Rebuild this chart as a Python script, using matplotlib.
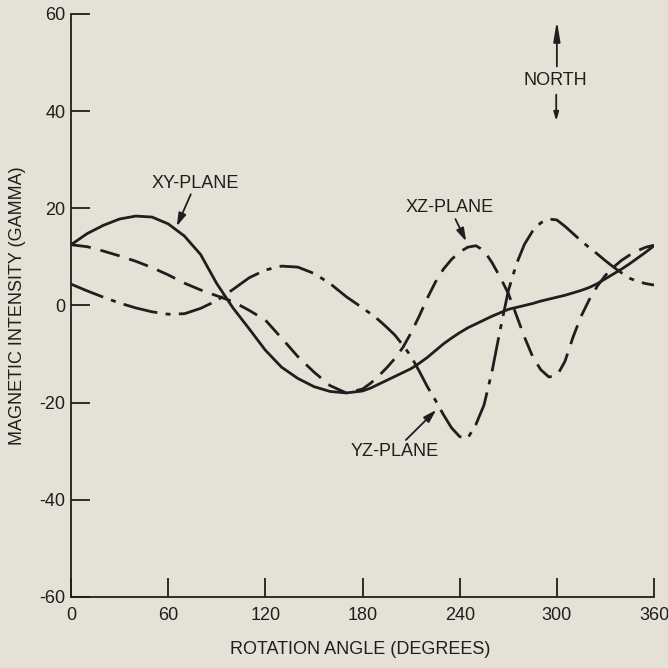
import matplotlib
matplotlib.use("Agg")
import matplotlib.pyplot as plt

# rotation angle (degrees) at which each curve was sampled
angle = [0, 10, 20, 30, 40, 50, 60, 70, 80, 90, 100, 110, 120, 130, 140, 150, 160, 170,
         180, 185, 190, 195, 200, 205, 210, 215, 220, 225, 230, 235, 240, 245, 250, 255,
         260, 265, 270, 275, 280, 285, 290, 295, 300, 305, 310, 315, 320, 325, 330, 335,
         340, 345, 350, 355, 360]

# magnetic intensity (gamma) per plane
xy_plane = [12.5, 14.8, 16.5, 17.8, 18.4, 18.2, 16.8, 14.3, 10.5, 4.5, -0.5, -4.8, -9.2,
            -12.7, -15.0, -16.7, -17.7, -18.0,
            -17.6, -17.0, -16.2, -15.4, -14.6, -13.8, -13.0, -11.9, -10.7, -9.3, -7.9,
            -6.7, -5.6, -4.6, -3.8, -3.0, -2.2, -1.5, -0.8, -0.4, 0.0, 0.4, 0.9, 1.3,
            1.7, 2.1, 2.6, 3.1, 3.7, 4.5, 5.5, 6.5, 7.5, 8.6, 9.8, 11.0, 12.3]
xz_plane = [12.5, 12.1, 11.2, 10.2, 9.1, 7.8, 6.3, 4.6, 3.2, 2.0, 0.8, -1.0, -3.0,
            -6.7, -10.5, -13.7, -16.5, -18.0,
            -17.2, -16.0, -14.5, -12.8, -10.9, -8.6, -5.6, -2.2, 1.5, 4.8, 7.5, 9.5,
            11.0, 12.0, 12.3, 11.3, 8.8, 5.8, 2.5, -2.0, -6.5, -10.5, -13.2, -14.7,
            -14.5, -11.5, -6.5, -2.2, 1.2, 4.0, 6.2, 7.9, 9.3, 10.4, 11.3, 12.0, 12.4]
yz_plane = [4.4, 3.0, 1.7, 0.5, -0.5, -1.3, -1.8, -1.7, -0.6, 1.0, 3.3, 5.7, 7.3,
            8.1, 7.9, 6.6, 4.5, 1.8,
            -0.5, -1.7, -3.0, -4.5, -6.1, -8.2, -10.5, -13.5, -16.7, -19.5, -22.5,
            -25.2, -27.0, -27.3, -24.5, -20.5, -13.5, -5.0, 3.0, 8.5, 12.6, 15.3, 17.0,
            17.8, 17.6, 16.3, 14.8, 13.3, 11.9, 10.6, 9.2, 7.9, 6.7, 5.6, 4.9, 4.5, 4.2]

x_ticks = [0, 60, 120, 180, 240, 300, 360]
y_ticks = [-60, -40, -20, 0, 20, 40, 60]

plt.rcParams["font.family"] = ["Liberation Sans", "DejaVu Sans"]
plt.rcParams["axes.unicode_minus"] = False

paper = "#e4e2d7"
ink = "#1e1e1e"
fs = 13

fig = plt.figure(figsize=(6.68, 6.68), dpi=100, facecolor=paper)
ax = fig.add_axes([0.1063, 0.1063, 0.8728, 0.8728], facecolor=paper)

ax.plot(angle, xy_plane, color=ink, lw=2.0, solid_capstyle="round", solid_joinstyle="round")
ax.plot(angle, xz_plane, color=ink, lw=2.0, linestyle=(0, (7.2, 3.6)),
        dash_capstyle="butt", dash_joinstyle="round")
ax.plot(angle, yz_plane, color=ink, lw=2.0, linestyle=(0, (12.5, 3.0, 1.8, 3.0)),
        dash_capstyle="butt", dash_joinstyle="round")

ax.set_xlim(0, 360)
ax.set_ylim(-60, 60)
ax.set_xticks(x_ticks)
ax.set_yticks(y_ticks)
ax.spines["top"].set_visible(False)
ax.spines["right"].set_visible(False)
for side in ("left", "bottom"):
    ax.spines[side].set_linewidth(1.3)
    ax.spines[side].set_color(ink)
ax.tick_params(axis="both", direction="in", length=13.5, width=1.3, color=ink,
               labelsize=fs, labelcolor=ink)
ax.tick_params(axis="x", pad=7)
ax.tick_params(axis="y", pad=4)

ax.set_xlabel("ROTATION ANGLE (DEGREES)", fontsize=fs, color=ink)
ax.set_ylabel("MAGNETIC INTENSITY (GAMMA)", fontsize=fs, color=ink)
ax.xaxis.set_label_coords(0.496, -0.075)
ax.yaxis.set_label_coords(-0.078, 0.5)

arrow = dict(arrowstyle="-|>,head_length=0.6,head_width=0.18", color=ink, lw=1.3,
             shrinkA=0, shrinkB=0)
ax.annotate("XY-PLANE", xy=(65.3, 16.3), xytext=(77, 25.2), fontsize=fs, color=ink,
            ha="center", va="center", arrowprops=arrow)
ax.annotate("XZ-PLANE", xy=(244, 13.2), xytext=(234, 20.1), fontsize=fs, color=ink,
            ha="center", va="center", arrowprops=arrow)
ax.annotate("YZ-PLANE", xy=(225.5, -21.5), xytext=(199.7, -30), fontsize=fs, color=ink,
            ha="center", va="center", arrowprops=arrow)

# north marker
ax.text(299, 46.4, "NORTH", fontsize=fs, color=ink, ha="center", va="center")
ax.annotate("", xy=(300, 58.6), xytext=(300, 49.2),
            arrowprops=dict(arrowstyle="-|>,head_length=1.2,head_width=0.2", color=ink,
                            lw=1.3, shrinkA=0, shrinkB=0))
ax.annotate("", xy=(299.6, 38.0), xytext=(299.6, 43.4),
            arrowprops=dict(arrowstyle="-|>,head_length=0.5,head_width=0.15", color=ink,
                            lw=1.3, shrinkA=0, shrinkB=0))

fig.savefig("out.png", dpi=100, facecolor=paper)
